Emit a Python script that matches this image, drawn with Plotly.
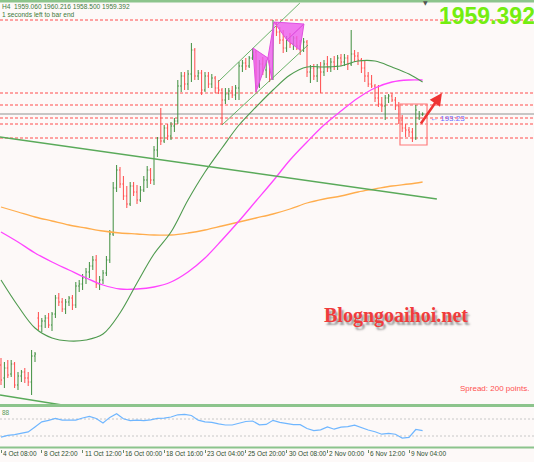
import plotly.graph_objects as go

# ---------------- data ----------------
bar_idx = list(range(125))
opens = [1833.9,1827.4,1832.4,1829.4,1834.4,1823.9,1828.4,1830.4,1827.4,1825.4,
         1838.4,1857.4,1853.4,1855.9,1857.4,1853.9,1859.4,1867.4,1865.4,1861.9,
         1865.4,1867.4,1863.9,1873.4,1874.4,1877.4,1880.4,1883.4,1886.4,1874.4,
         1876.4,1879.9,1886.4,1899.4,1922.4,1931.4,1924.4,1918.4,1914.4,1923.4,
         1920.4,1916.4,1921.4,1926.4,1931.4,1926.4,1941.4,1947.4,1945.9,1952.4,
         1948.4,1953.4,1955.9,1973.4,1978.4,1974.4,1979.4,1991.4,1978.4,1979.9,
         1971.4,1978.4,1974.4,1977.4,1972.4,1971.4,1966.4,1969.4,1970.9,1968.9,
         1972.4,1983.4,1984.9,1983.4,1987.4,1990.4,1973.4,1984.4,1981.4,1985.4,
         1976.9,2004.4,2000.4,1996.4,1992.4,1996.4,1994.4,1997.4,1993.4,1991.4,
         1995.4,1980.4,1982.4,1978.4,1982.4,1980.4,1984.4,1982.4,1985.4,1983.4,
         1987.4,1985.4,1987.4,1984.4,1989.4,1988.4,1986.4,1982.4,1978.4,1974.4,
         1973.4,1967.4,1964.4,1963.4,1967.4,1968.4,1966.4,1963.4,1956.4,1952.4,
         1951.4,1950.4,1947.4,1957.4,1959.06]
highs = [1837.4,1835.4,1836.4,1836.4,1835.4,1830.4,1831.4,1832.4,1830.4,1841.4,
         1840.4,1860.4,1857.4,1858.9,1859.9,1860.4,1868.9,1869.9,1867.4,1866.9,
         1868.4,1868.9,1875.4,1876.4,1879.4,1882.4,1885.4,1888.4,1888.9,1878.4,
         1881.4,1888.4,1901.4,1925.4,1933.9,1932.9,1928.4,1923.4,1925.4,1925.4,
         1923.9,1923.4,1928.4,1933.4,1932.4,1943.4,1947.9,1962.4,1953.9,1954.4,
         1955.4,1957.4,1976.4,1980.4,1980.4,1981.4,1994.9,1992.4,1981.4,1981.4,
         1980.4,1980.4,1979.4,1978.4,1976.4,1972.4,1972.4,1972.4,1973.4,1973.9,
         1985.4,1986.4,1987.4,1988.4,1992.4,1991.4,1986.4,1987.9,1986.4,1986.4,
         2006.4,2005.4,2002.9,2001.4,1998.4,1999.9,1998.4,1998.4,1996.4,1997.4,
         1996.4,1983.9,1984.4,1984.4,1985.4,1986.4,1988.4,1987.4,1988.4,1988.9,
         1989.4,1989.4,1988.9,2001.4,1991.4,1990.4,1987.4,1986.4,1980.4,1978.9,
         1974.4,1973.9,1967.9,1968.9,1969.4,1969.9,1967.9,1965.4,1958.9,1954.4,
         1952.9,1952.4,1963.9,1960.9,1960.216]
lows = [1823.9,1822.4,1827.4,1827.9,1822.4,1821.4,1825.4,1824.9,1823.4,1818.9,
        1835.4,1851.4,1850.4,1852.4,1852.4,1850.9,1857.4,1863.4,1860.4,1859.4,
        1863.4,1861.4,1862.4,1870.4,1871.4,1874.4,1877.4,1881.4,1872.4,1871.4,
        1874.4,1878.4,1884.9,1898.4,1920.4,1922.4,1916.4,1912.4,1913.4,1918.4,
        1914.4,1915.4,1920.4,1922.4,1924.4,1923.9,1937.9,1943.9,1944.9,1946.4,
        1946.4,1950.4,1954.4,1970.4,1971.4,1971.4,1975.4,1976.4,1976.4,1968.9,
        1970.4,1972.4,1972.4,1969.9,1969.4,1953.9,1964.4,1966.4,1967.4,1966.4,
        1966.4,1980.4,1981.4,1982.4,1986.4,1970.4,1972.4,1978.9,1977.4,1975.4,
        1976.4,1998.4,1994.4,1989.9,1990.4,1992.4,1991.4,1991.4,1988.9,1990.4,
        1977.9,1974.9,1976.4,1975.4,1969.9,1978.4,1980.4,1980.4,1981.4,1981.4,
        1983.4,1983.4,1981.4,1983.4,1985.4,1983.9,1979.9,1975.4,1972.9,1972.4,
        1965.4,1962.9,1960.4,1956.4,1964.9,1965.4,1961.4,1954.4,1950.4,1947.9,
        1947.9,1945.4,1946.4,1956.4,1958.5]
closes = [1826.4,1832.4,1828.9,1834.4,1823.9,1828.4,1830.4,1827.4,1825.4,1838.4,
          1839.4,1853.4,1855.9,1857.4,1853.9,1859.4,1867.4,1865.4,1861.9,1865.4,
          1867.4,1863.9,1873.4,1874.4,1877.4,1880.4,1883.4,1886.4,1874.4,1876.4,
          1879.9,1886.4,1899.4,1922.4,1931.4,1924.4,1918.4,1914.4,1923.4,1920.4,
          1916.4,1921.4,1926.4,1931.4,1926.4,1941.4,1947.4,1945.9,1952.4,1948.4,
          1953.4,1955.9,1973.4,1978.4,1974.4,1979.4,1991.4,1978.4,1979.9,1971.4,
          1978.4,1974.4,1977.4,1972.4,1971.4,1966.4,1969.4,1970.9,1968.9,1972.4,
          1983.4,1984.9,1983.4,1987.4,1990.4,1973.4,1984.4,1981.4,1985.4,1976.9,
          2004.4,2000.4,1996.4,1992.4,1996.4,1994.4,1997.4,1993.4,1991.4,1995.4,
          1980.4,1982.4,1978.4,1982.4,1980.4,1984.4,1982.4,1985.4,1983.4,1987.4,
          1985.4,1987.4,1984.4,1989.4,1988.4,1986.4,1982.4,1978.4,1974.4,1973.4,
          1967.4,1964.4,1963.4,1967.4,1968.4,1966.4,1963.4,1956.4,1952.4,1951.4,
          1950.4,1947.4,1961.4,1958.4,1959.392]

ma_idx = [0,5,10,15,20,25,30,35,40,45,50,55,60,65,70,75,80,85,90,95,100,105,110,115,120,124]
ma_green = [1876.4,1863.4,1852.4,1847.4,1845.9,1846.4,1849.4,1859.9,1874.9,1889.4,1900.4,1916.4,1930.4,
            1942.4,1953.9,1962.9,1971.4,1978.9,1982.9,1982.9,1983.4,1985.9,1985.9,1982.9,1979.4,1975.4]
ma_magenta = [1900.4,1895.4,1889.9,1885.4,1881.4,1877.4,1873.9,1871.9,1871.9,1872.9,1875.4,1880.4,1887.4,
              1896.4,1905.9,1915.9,1925.9,1936.4,1945.4,1953.9,1960.9,1967.4,1972.4,1975.4,1976.4,1976.4]
ma_orange = [1912.9,1910.4,1907.9,1905.9,1903.9,1902.4,1900.9,1899.9,1899.4,1898.9,1898.9,1899.9,1901.4,
             1903.4,1905.4,1907.4,1909.4,1911.9,1914.9,1916.9,1918.4,1920.4,1921.9,1923.4,1924.4,1925.4]

rsi_idx = list(range(0, 125, 2))
rsi_vals = [27.2,31.6,33.1,35.9,39.6,51.2,63.2,66.7,71.2,67.4,66.7,67.2,72.4,75.9,71.2,60.6,73.8,82.5,
            70.5,66.2,67.4,66.2,68.1,71.6,71.9,74.7,79.9,80.8,78.2,67.2,63.4,62.0,58.5,55.9,55.9,60.4,
            64.1,65.3,56.4,57.3,66.9,62.2,59.6,56.8,56.6,47.6,42.7,44.4,51.4,46.0,50.7,51.9,55.4,49.1,
            44.1,39.9,34.2,36.1,34.2,25.1,26.9,45.3,42.5]
rsi_levels = [70, 30]

levels = [2006.4, 1969.9, 1963.9, 1957.4, 1954.4, 1947.4]
bid_price = 1959.392

trend_long_x = [-0.3, 128.2]
trend_long_y = [1947.9, 1916.9]
trend_low_x = [-0.3, 18.0]
trend_low_y = [1818.9, 1813.9]
chan_up_x = [63.8, 87.9]
chan_up_y = [1975.4, 2014.9]
chan_lo_x = [65.0, 90.3]
chan_lo_y = [1953.9, 1993.9]

pattern_polys = [
    ([74.1, 78.5, 75.0, 74.1], [1992.4, 1987.4, 1970.4, 1992.4]),
    ([78.5, 80.3, 79.7, 78.5], [1987.4, 2005.4, 1976.4, 1987.4]),
    ([80.3, 84.1, 89.1, 80.3], [2005.4, 1996.4, 2004.4, 2005.4]),
    ([84.1, 89.1, 87.9, 84.1], [1996.4, 2004.4, 1991.4, 1996.4]),
]

box_x = [117.35, 125.3]
box_y = [1943.9, 1964.4]
arrow_tail = (123.2, 1953.9)
arrow_head = (129.7, 1969.9)

tick_idx = [0, 12, 24, 36, 48, 60, 72, 84, 96, 108, 120]
tick_labels = ["4 Oct 08:00", "8 Oct 22:00", "11 Oct 12:00", "16 Oct 00:00", "18 Oct 16:00",
               "23 Oct 04:00", "25 Oct 20:00", "30 Oct 08:00", "2 Nov 00:00", "6 Nov 12:00", "9 Nov 04:00"]

# ---------------- figure ----------------
W, H = 534, 462
BG = "#fdf9f8"
fig = go.Figure()

def py(pix):
    return (H - pix) / H

fig.add_trace(go.Scatter(x=ma_idx, y=ma_orange, mode="lines", line=dict(color="#ffad4d", width=1.3, shape="spline"),
                         xaxis="x", yaxis="y", hoverinfo="skip"))
fig.add_trace(go.Scatter(x=ma_idx, y=ma_magenta, mode="lines", line=dict(color="#ff44ff", width=1.3, shape="spline"),
                         xaxis="x", yaxis="y", hoverinfo="skip"))
fig.add_trace(go.Scatter(x=ma_idx, y=ma_green, mode="lines", line=dict(color="#4e9a4e", width=1.1, shape="spline"),
                         xaxis="x", yaxis="y", hoverinfo="skip"))
for tx, ty, w in [(trend_long_x, trend_long_y, 1.5), (trend_low_x, trend_low_y, 1.5),
                  (chan_up_x, chan_up_y, 0.9), (chan_lo_x, chan_lo_y, 0.9)]:
    fig.add_trace(go.Scatter(x=tx, y=ty, mode="lines", line=dict(color="#5aaa5a", width=w),
                             xaxis="x", yaxis="y", hoverinfo="skip"))
for px_, py_ in pattern_polys:
    fig.add_trace(go.Scatter(x=px_, y=py_, mode="lines", fill="toself", fillcolor="rgba(236,90,236,0.8)",
                             line=dict(color="#e050e0", width=1), xaxis="x", yaxis="y", hoverinfo="skip"))

fig.add_trace(go.Ohlc(x=bar_idx, open=opens, high=highs, low=lows, close=closes,
                      increasing=dict(line=dict(color="#3f8f3f", width=1)),
                      decreasing=dict(line=dict(color="#ff4a4a", width=1)),
                      tickwidth=0.3, xaxis="x", yaxis="y", hoverinfo="skip"))

fig.add_trace(go.Scatter(x=rsi_idx, y=rsi_vals, mode="lines", line=dict(color="#6fb6ff", width=1.2),
                         xaxis="x2", yaxis="y2", hoverinfo="skip"))

shapes = []
for lv in levels:
    shapes.append(dict(type="line", xref="paper", x0=0, x1=1, yref="y", y0=lv, y1=lv,
                       line=dict(color="#ff4d4d", width=1, dash="3px,2px"), layer="below"))
shapes.append(dict(type="line", xref="paper", x0=0, x1=1, yref="y", y0=bid_price, y1=bid_price,
                   line=dict(color="#b4b4b4", width=1.5), layer="below"))
for lv in rsi_levels:
    shapes.append(dict(type="line", xref="paper", x0=0, x1=1, yref="y2", y0=lv, y1=lv,
                       line=dict(color="#c8c8c8", width=1, dash="2px,2px"), layer="below"))
shapes.append(dict(type="rect", xref="x", yref="y", x0=box_x[0], x1=box_x[1], y0=box_y[0], y1=box_y[1],
                   line=dict(color="#ff7b7b", width=1.2), fillcolor="rgba(0,0,0,0)"))
# panel separators
for pix, w in [(1, 3), (405.5, 3), (447.5, 2)]:
    shapes.append(dict(type="line", xref="paper", yref="paper", x0=0, x1=1, y0=py(pix), y1=py(pix),
                       line=dict(color="#8cc48c", width=w)))

annotations = []
for ti, tl in zip(tick_idx, tick_labels):
    annotations.append(dict(x=ti, xref="x2", y=py(453.5), yref="paper", text=tl, showarrow=False,
                            xanchor="left", yanchor="middle", xshift=0,
                            font=dict(family="Liberation Sans, Arial", size=6.5, color="#2f4f2f")))
annotations.append(dict(x=arrow_head[0], y=arrow_head[1], xref="x", yref="y",
                        ax=arrow_tail[0], ay=arrow_tail[1], axref="x", ayref="y",
                        text="", showarrow=True, arrowhead=2, arrowsize=1, arrowwidth=2.5, arrowcolor="#ee3333"))
annotations.append(dict(x=437 / W, y=py(16), xref="paper", yref="paper", text="<b>1959.392</b>", showarrow=False,
                        xanchor="left", yanchor="middle",
                        font=dict(family="Liberation Sans, Arial", size=23, color="#74ee10")))
annotations.append(dict(x=0, y=py(6), xref="paper", yref="paper",
                        text="H4  1959.060 1960.216 1958.500 1959.392", showarrow=False,
                        xanchor="left", yanchor="middle",
                        font=dict(family="Liberation Sans, Arial", size=6.6, color="#3d7a3d")))
annotations.append(dict(x=0, y=py(15), xref="paper", yref="paper",
                        text="1 seconds left to bar end", showarrow=False,
                        xanchor="left", yanchor="middle",
                        font=dict(family="Liberation Sans, Arial", size=6.6, color="#3d7a3d")))
annotations.append(dict(x=0.8015, y=py(118), xref="paper", yref="paper", text="\u2190 193:23", showarrow=False,
                        xanchor="left", yanchor="middle",
                        font=dict(family="Liberation Sans, Arial", size=8, color="#6a6aff")))
annotations.append(dict(x=0.603, y=py(316), xref="paper", yref="paper", text="<b>Blogngoaihoi.net</b>",
                        showarrow=False, xanchor="left", yanchor="middle",
                        font=dict(family="Liberation Serif, Times New Roman, serif", size=20, color="#f03c3c",
                                  shadow="2px 3px 2px rgba(90,90,90,0.6)")))
annotations.append(dict(x=458 / W, y=py(388), xref="paper", yref="paper", text="Spread: 200 points.",
                        showarrow=False, xanchor="left", yanchor="middle",
                        font=dict(family="Liberation Sans, Arial", size=8, color="#ff5050")))
annotations.append(dict(x=0, y=py(412), xref="paper", yref="paper", text="88", showarrow=False,
                        xanchor="left", yanchor="middle",
                        font=dict(family="Liberation Sans, Arial", size=6.5, color="#5a9a5a")))
annotations.append(dict(x=0.796, y=py(3), xref="paper", yref="paper", text="\u25bc", showarrow=False,
                        xanchor="center", yanchor="middle",
                        font=dict(family="DejaVu Sans", size=6, color="#555555")))

x_range = [-0.294, 156.765]
fig.update_layout(
    width=W, height=H, margin=dict(l=0, r=0, t=0, b=0),
    paper_bgcolor=BG, plot_bgcolor=BG, showlegend=False, hovermode=False,
    xaxis=dict(domain=[0, 1], range=x_range, visible=False, rangeslider=dict(visible=False), anchor="y"),
    yaxis=dict(domain=[py(405), 1.0], range=[1813.9, 2016.4], visible=False, anchor="x"),
    xaxis2=dict(domain=[0, 1], range=x_range, anchor="y2", showgrid=False, zeroline=False, showline=False,
                showticklabels=False, ticks="outside", ticklen=3, tickcolor="#6a8a6a",
                tickvals=tick_idx, matches="x"),
    yaxis2=dict(domain=[py(448.75), py(406.25)], range=[0, 100], visible=False, anchor="x2"),
    shapes=shapes, annotations=annotations,
)

fig.write_html("out.html", config={"displayModeBar": False},
               post_script="document.body.style.margin='0px';document.body.style.overflow='hidden';")
